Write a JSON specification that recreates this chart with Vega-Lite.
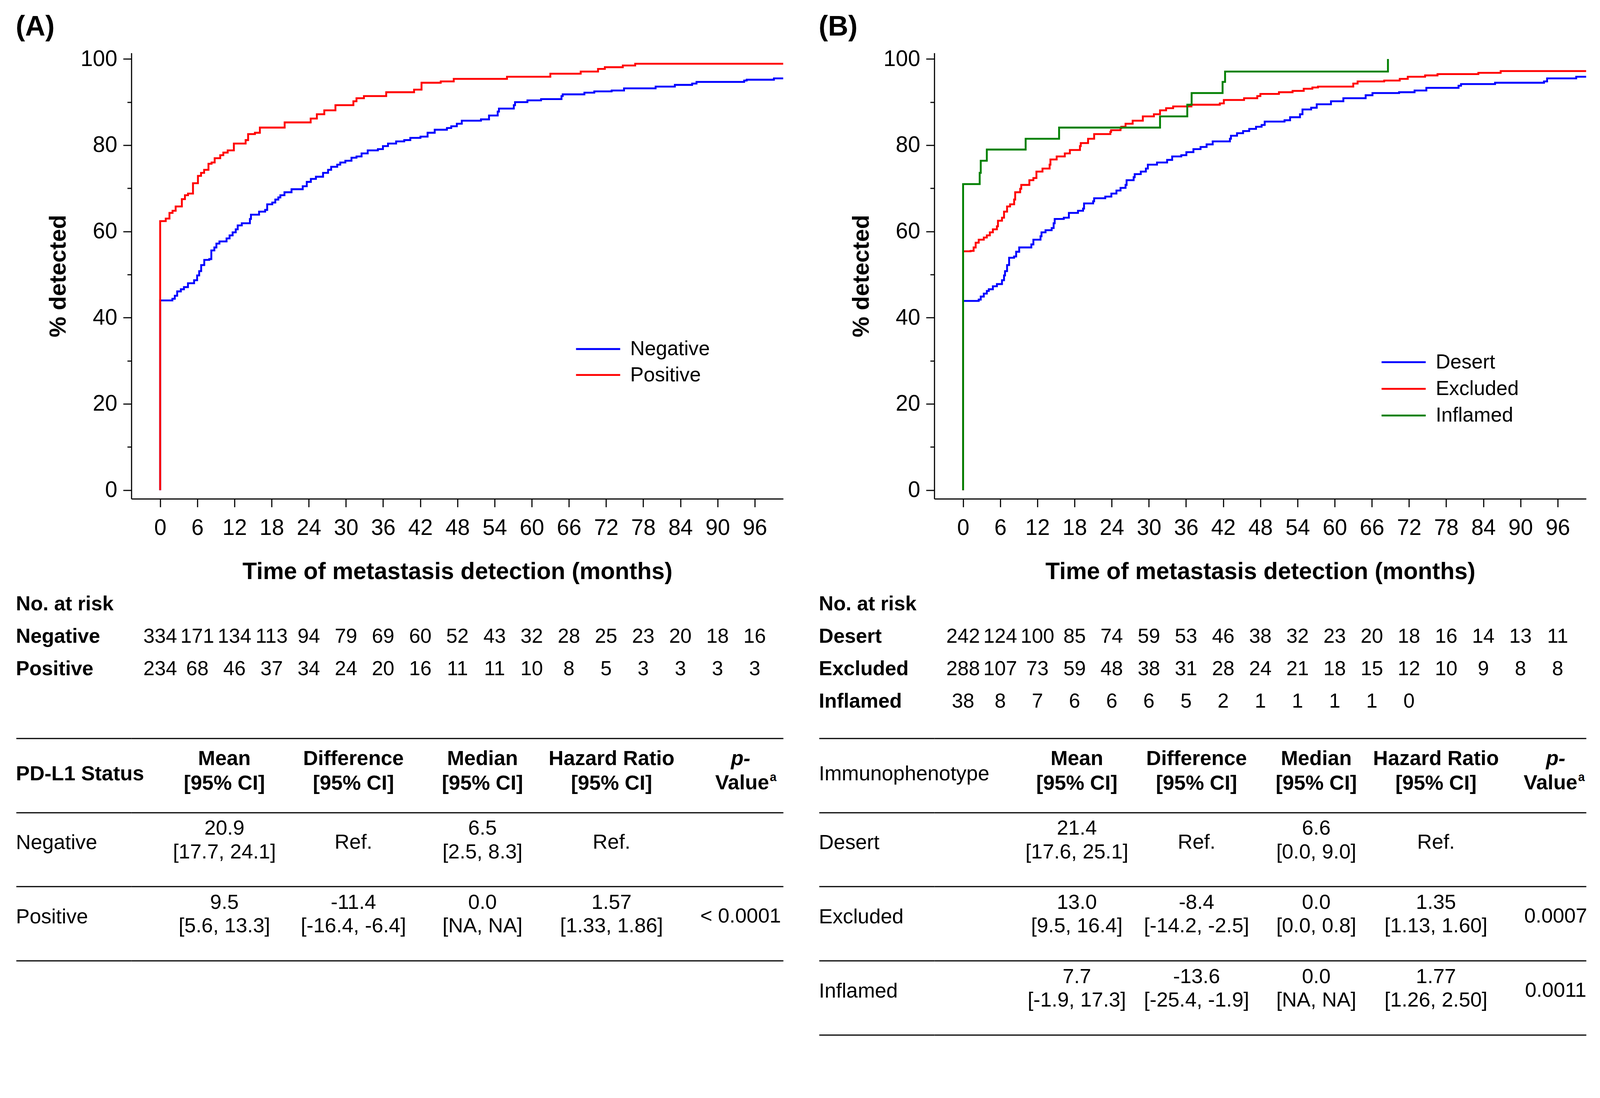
{
"$schema": "https://vega.github.io/schema/vega-lite/v6.json",
"padding": {"left": 39.3, "top": 32.6, "right": 0, "bottom": 0},
"background": "white",
"config": {
  "font": "Liberation Sans",
  "view": {"stroke": null},
  "axis": {"domainColor": "black", "tickColor": "black", "labelColor": "black", "titleColor": "black", "labelFont": "Liberation Sans", "titleFont": "Liberation Sans"},
  "legend": {"labelColor": "black", "labelFont": "Liberation Sans"},
  "text": {"color": "black", "font": "Liberation Sans"},
  "title": {"color": "black", "font": "Liberation Sans"}
},
"datasets": {
  "kmA": [
    {"grp":"Negative","t":0,"pct":0},{"grp":"Negative","t":0,"pct":44.0},{"grp":"Negative","t":1.97,"pct":44.4},{"grp":"Negative","t":2.36,"pct":45.1},{"grp":"Negative","t":2.75,"pct":46.1},{"grp":"Negative","t":3.34,"pct":46.6},{"grp":"Negative","t":3.84,"pct":47.1},{"grp":"Negative","t":4.49,"pct":48.0},{"grp":"Negative","t":5.48,"pct":48.7},{"grp":"Negative","t":5.97,"pct":49.8},{"grp":"Negative","t":6.3,"pct":50.8},{"grp":"Negative","t":6.62,"pct":52.2},{"grp":"Negative","t":7.12,"pct":53.4},{"grp":"Negative","t":7.93,"pct":53.6},{"grp":"Negative","t":8.26,"pct":55.6},{"grp":"Negative","t":8.75,"pct":56.3},{"grp":"Negative","t":9.08,"pct":57.2},{"grp":"Negative","t":9.57,"pct":57.7},{"grp":"Negative","t":10.72,"pct":58.4},{"grp":"Negative","t":11.21,"pct":59.1},{"grp":"Negative","t":11.7,"pct":59.8},{"grp":"Negative","t":12.2,"pct":60.5},{"grp":"Negative","t":12.52,"pct":61.4},{"grp":"Negative","t":13.18,"pct":61.9},{"grp":"Negative","t":14.49,"pct":62.9},{"grp":"Negative","t":14.66,"pct":63.9},{"grp":"Negative","t":15.97,"pct":64.6},{"grp":"Negative","t":16.95,"pct":65.0},{"grp":"Negative","t":17.28,"pct":66.3},{"grp":"Negative","t":18.1,"pct":66.7},{"grp":"Negative","t":18.59,"pct":67.4},{"grp":"Negative","t":19.08,"pct":67.9},{"grp":"Negative","t":19.41,"pct":68.4},{"grp":"Negative","t":20.07,"pct":69.1},{"grp":"Negative","t":21.21,"pct":69.8},{"grp":"Negative","t":23.02,"pct":70.5},{"grp":"Negative","t":23.67,"pct":71.5},{"grp":"Negative","t":24.33,"pct":72.2},{"grp":"Negative","t":25.15,"pct":72.7},{"grp":"Negative","t":26.3,"pct":73.6},{"grp":"Negative","t":27.11,"pct":74.3},{"grp":"Negative","t":27.61,"pct":75.0},{"grp":"Negative","t":28.59,"pct":75.5},{"grp":"Negative","t":29.08,"pct":76.0},{"grp":"Negative","t":29.9,"pct":76.4},{"grp":"Negative","t":30.89,"pct":77.1},{"grp":"Negative","t":31.7,"pct":77.4},{"grp":"Negative","t":32.52,"pct":78.1},{"grp":"Negative","t":33.51,"pct":78.8},{"grp":"Negative","t":35.15,"pct":79.1},{"grp":"Negative","t":35.97,"pct":79.8},{"grp":"Negative","t":36.79,"pct":80.4},{"grp":"Negative","t":38.1,"pct":80.9},{"grp":"Negative","t":39.41,"pct":81.2},{"grp":"Negative","t":40.39,"pct":81.7},{"grp":"Negative","t":42.03,"pct":82.0},{"grp":"Negative","t":43.18,"pct":82.9},{"grp":"Negative","t":44.33,"pct":83.6},{"grp":"Negative","t":46.3,"pct":84.0},{"grp":"Negative","t":47.0,"pct":84.4},{"grp":"Negative","t":47.9,"pct":85.0},{"grp":"Negative","t":48.7,"pct":85.7},{"grp":"Negative","t":51.8,"pct":86.0},{"grp":"Negative","t":53.1,"pct":86.9},{"grp":"Negative","t":54.5,"pct":87.8},{"grp":"Negative","t":54.7,"pct":88.5},{"grp":"Negative","t":57.1,"pct":89.3},{"grp":"Negative","t":57.3,"pct":90.0},{"grp":"Negative","t":59.3,"pct":90.4},{"grp":"Negative","t":61.5,"pct":90.7},{"grp":"Negative","t":64.8,"pct":91.4},{"grp":"Negative","t":65.0,"pct":91.8},{"grp":"Negative","t":68.5,"pct":92.2},{"grp":"Negative","t":70.1,"pct":92.5},{"grp":"Negative","t":72.9,"pct":92.7},{"grp":"Negative","t":74.9,"pct":93.2},{"grp":"Negative","t":80.0,"pct":93.6},{"grp":"Negative","t":83.1,"pct":94.0},{"grp":"Negative","t":85.9,"pct":94.3},{"grp":"Negative","t":86.6,"pct":94.7},{"grp":"Negative","t":94.3,"pct":95.0},{"grp":"Negative","t":94.7,"pct":95.2},{"grp":"Negative","t":99.1,"pct":95.5},{"grp":"Negative","t":100.6,"pct":95.5},
    {"grp":"Positive","t":0,"pct":0},{"grp":"Positive","t":0,"pct":62.4},{"grp":"Positive","t":0.9,"pct":63.0},{"grp":"Positive","t":1.5,"pct":64.3},{"grp":"Positive","t":2.0,"pct":64.8},{"grp":"Positive","t":2.5,"pct":65.8},{"grp":"Positive","t":3.5,"pct":67.5},{"grp":"Positive","t":4.0,"pct":68.4},{"grp":"Positive","t":4.5,"pct":68.8},{"grp":"Positive","t":5.3,"pct":71.2},{"grp":"Positive","t":6.1,"pct":72.9},{"grp":"Positive","t":6.6,"pct":73.6},{"grp":"Positive","t":7.1,"pct":74.3},{"grp":"Positive","t":7.8,"pct":75.7},{"grp":"Positive","t":8.3,"pct":76.0},{"grp":"Positive","t":8.8,"pct":77.0},{"grp":"Positive","t":9.7,"pct":77.7},{"grp":"Positive","t":10.2,"pct":78.3},{"grp":"Positive","t":10.9,"pct":78.8},{"grp":"Positive","t":11.9,"pct":80.4},{"grp":"Positive","t":13.8,"pct":81.2},{"grp":"Positive","t":14.2,"pct":82.6},{"grp":"Positive","t":15.3,"pct":82.9},{"grp":"Positive","t":16.1,"pct":84.1},{"grp":"Positive","t":20.1,"pct":85.3},{"grp":"Positive","t":24.3,"pct":86.2},{"grp":"Positive","t":25.3,"pct":87.2},{"grp":"Positive","t":26.5,"pct":88.1},{"grp":"Positive","t":28.3,"pct":89.3},{"grp":"Positive","t":31.2,"pct":90.2},{"grp":"Positive","t":31.7,"pct":90.9},{"grp":"Positive","t":32.9,"pct":91.4},{"grp":"Positive","t":36.5,"pct":92.3},{"grp":"Positive","t":41.0,"pct":92.9},{"grp":"Positive","t":42.2,"pct":94.5},{"grp":"Positive","t":45.3,"pct":94.8},{"grp":"Positive","t":47.4,"pct":95.4},{"grp":"Positive","t":56.0,"pct":95.9},{"grp":"Positive","t":63.0,"pct":96.6},{"grp":"Positive","t":67.9,"pct":97.1},{"grp":"Positive","t":70.7,"pct":97.7},{"grp":"Positive","t":71.8,"pct":98.1},{"grp":"Positive","t":74.7,"pct":98.5},{"grp":"Positive","t":76.7,"pct":98.9},{"grp":"Positive","t":100.6,"pct":98.9}
  ],
  "kmB": [
    {"grp":"Desert","t":0,"pct":0},{"grp":"Desert","t":0,"pct":43.9},{"grp":"Desert","t":2.52,"pct":44.2},{"grp":"Desert","t":2.85,"pct":44.9},{"grp":"Desert","t":3.34,"pct":45.6},{"grp":"Desert","t":3.83,"pct":46.2},{"grp":"Desert","t":4.15,"pct":46.6},{"grp":"Desert","t":4.81,"pct":47.3},{"grp":"Desert","t":5.46,"pct":47.8},{"grp":"Desert","t":6.28,"pct":48.7},{"grp":"Desert","t":6.61,"pct":49.8},{"grp":"Desert","t":6.77,"pct":50.8},{"grp":"Desert","t":7.1,"pct":52.2},{"grp":"Desert","t":7.43,"pct":53.9},{"grp":"Desert","t":8.24,"pct":54.2},{"grp":"Desert","t":8.57,"pct":55.3},{"grp":"Desert","t":9.06,"pct":56.3},{"grp":"Desert","t":11.02,"pct":57.0},{"grp":"Desert","t":11.35,"pct":58.1},{"grp":"Desert","t":12.5,"pct":58.9},{"grp":"Desert","t":12.66,"pct":59.8},{"grp":"Desert","t":13.31,"pct":60.3},{"grp":"Desert","t":14.3,"pct":60.8},{"grp":"Desert","t":14.62,"pct":61.9},{"grp":"Desert","t":14.79,"pct":62.9},{"grp":"Desert","t":16.26,"pct":63.2},{"grp":"Desert","t":17.08,"pct":64.3},{"grp":"Desert","t":18.55,"pct":64.8},{"grp":"Desert","t":19.37,"pct":65.3},{"grp":"Desert","t":19.53,"pct":66.5},{"grp":"Desert","t":21.0,"pct":67.0},{"grp":"Desert","t":21.16,"pct":67.7},{"grp":"Desert","t":22.96,"pct":68.1},{"grp":"Desert","t":23.94,"pct":68.8},{"grp":"Desert","t":24.76,"pct":69.5},{"grp":"Desert","t":25.42,"pct":70.1},{"grp":"Desert","t":26.23,"pct":70.8},{"grp":"Desert","t":26.4,"pct":71.9},{"grp":"Desert","t":27.54,"pct":72.6},{"grp":"Desert","t":27.71,"pct":73.3},{"grp":"Desert","t":28.69,"pct":73.9},{"grp":"Desert","t":29.51,"pct":74.6},{"grp":"Desert","t":29.83,"pct":75.5},{"grp":"Desert","t":31.31,"pct":76.0},{"grp":"Desert","t":32.94,"pct":76.6},{"grp":"Desert","t":33.76,"pct":77.4},{"grp":"Desert","t":35.23,"pct":77.7},{"grp":"Desert","t":36.05,"pct":78.4},{"grp":"Desert","t":37.19,"pct":79.1},{"grp":"Desert","t":38.34,"pct":79.6},{"grp":"Desert","t":39.32,"pct":80.2},{"grp":"Desert","t":40.3,"pct":80.9},{"grp":"Desert","t":43.08,"pct":81.5},{"grp":"Desert","t":43.25,"pct":82.2},{"grp":"Desert","t":44.23,"pct":82.8},{"grp":"Desert","t":45.21,"pct":83.3},{"grp":"Desert","t":46.2,"pct":83.8},{"grp":"Desert","t":47.3,"pct":84.3},{"grp":"Desert","t":48.2,"pct":84.7},{"grp":"Desert","t":48.7,"pct":85.5},{"grp":"Desert","t":51.9,"pct":85.8},{"grp":"Desert","t":52.8,"pct":86.5},{"grp":"Desert","t":54.4,"pct":87.2},{"grp":"Desert","t":54.8,"pct":88.3},{"grp":"Desert","t":56.2,"pct":88.7},{"grp":"Desert","t":57.1,"pct":89.5},{"grp":"Desert","t":59.4,"pct":90.2},{"grp":"Desert","t":61.4,"pct":90.9},{"grp":"Desert","t":65.0,"pct":91.6},{"grp":"Desert","t":66.1,"pct":92.1},{"grp":"Desert","t":70.4,"pct":92.3},{"grp":"Desert","t":72.9,"pct":92.7},{"grp":"Desert","t":74.8,"pct":93.3},{"grp":"Desert","t":80.0,"pct":93.8},{"grp":"Desert","t":80.4,"pct":94.2},{"grp":"Desert","t":85.9,"pct":94.5},{"grp":"Desert","t":93.8,"pct":94.8},{"grp":"Desert","t":94.3,"pct":95.5},{"grp":"Desert","t":99.0,"pct":95.9},{"grp":"Desert","t":100.6,"pct":95.9},
    {"grp":"Excluded","t":0,"pct":0},{"grp":"Excluded","t":0,"pct":55.4},{"grp":"Excluded","t":1.2,"pct":55.5},{"grp":"Excluded","t":1.7,"pct":56.3},{"grp":"Excluded","t":2.03,"pct":57.4},{"grp":"Excluded","t":2.52,"pct":58.1},{"grp":"Excluded","t":3.34,"pct":58.6},{"grp":"Excluded","t":3.83,"pct":59.1},{"grp":"Excluded","t":4.32,"pct":59.8},{"grp":"Excluded","t":4.81,"pct":60.5},{"grp":"Excluded","t":5.46,"pct":61.2},{"grp":"Excluded","t":5.63,"pct":62.5},{"grp":"Excluded","t":6.28,"pct":63.2},{"grp":"Excluded","t":6.61,"pct":64.6},{"grp":"Excluded","t":7.1,"pct":65.8},{"grp":"Excluded","t":7.59,"pct":66.3},{"grp":"Excluded","t":8.24,"pct":67.4},{"grp":"Excluded","t":8.41,"pct":69.1},{"grp":"Excluded","t":9.22,"pct":69.9},{"grp":"Excluded","t":9.39,"pct":70.8},{"grp":"Excluded","t":10.7,"pct":71.9},{"grp":"Excluded","t":11.35,"pct":72.4},{"grp":"Excluded","t":11.84,"pct":73.9},{"grp":"Excluded","t":12.82,"pct":74.6},{"grp":"Excluded","t":13.97,"pct":75.5},{"grp":"Excluded","t":14.1,"pct":76.7},{"grp":"Excluded","t":15.11,"pct":77.4},{"grp":"Excluded","t":16.42,"pct":78.1},{"grp":"Excluded","t":17.24,"pct":78.9},{"grp":"Excluded","t":18.87,"pct":79.8},{"grp":"Excluded","t":19.0,"pct":80.5},{"grp":"Excluded","t":20.18,"pct":81.5},{"grp":"Excluded","t":21.16,"pct":82.6},{"grp":"Excluded","t":23.78,"pct":83.1},{"grp":"Excluded","t":23.9,"pct":83.5},{"grp":"Excluded","t":25.42,"pct":84.0},{"grp":"Excluded","t":25.55,"pct":84.3},{"grp":"Excluded","t":26.23,"pct":85.0},{"grp":"Excluded","t":27.38,"pct":85.7},{"grp":"Excluded","t":29.02,"pct":86.7},{"grp":"Excluded","t":30.81,"pct":87.2},{"grp":"Excluded","t":31.8,"pct":88.1},{"grp":"Excluded","t":32.78,"pct":88.6},{"grp":"Excluded","t":33.92,"pct":89.0},{"grp":"Excluded","t":36.87,"pct":89.4},{"grp":"Excluded","t":41.45,"pct":89.7},{"grp":"Excluded","t":42.1,"pct":90.5},{"grp":"Excluded","t":45.37,"pct":90.9},{"grp":"Excluded","t":47.5,"pct":91.4},{"grp":"Excluded","t":48.0,"pct":91.9},{"grp":"Excluded","t":51.0,"pct":92.3},{"grp":"Excluded","t":53.2,"pct":92.6},{"grp":"Excluded","t":55.0,"pct":93.1},{"grp":"Excluded","t":56.4,"pct":93.4},{"grp":"Excluded","t":57.3,"pct":93.6},{"grp":"Excluded","t":63.0,"pct":94.3},{"grp":"Excluded","t":63.7,"pct":94.8},{"grp":"Excluded","t":68.0,"pct":95.0},{"grp":"Excluded","t":70.5,"pct":95.4},{"grp":"Excluded","t":71.8,"pct":95.9},{"grp":"Excluded","t":74.6,"pct":96.2},{"grp":"Excluded","t":76.6,"pct":96.5},{"grp":"Excluded","t":83.2,"pct":96.8},{"grp":"Excluded","t":86.8,"pct":97.2},{"grp":"Excluded","t":100.6,"pct":97.2},
    {"grp":"Inflamed","t":0,"pct":0},{"grp":"Inflamed","t":0,"pct":71.0},{"grp":"Inflamed","t":2.68,"pct":73.6},{"grp":"Inflamed","t":2.85,"pct":76.4},{"grp":"Inflamed","t":3.83,"pct":79.0},{"grp":"Inflamed","t":10.1,"pct":81.5},{"grp":"Inflamed","t":15.5,"pct":84.1},{"grp":"Inflamed","t":31.8,"pct":86.7},{"grp":"Inflamed","t":36.2,"pct":89.4},{"grp":"Inflamed","t":36.9,"pct":92.1},{"grp":"Inflamed","t":41.9,"pct":94.7},{"grp":"Inflamed","t":42.3,"pct":97.1},{"grp":"Inflamed","t":68.6,"pct":100}
  ],
  "riskA": [
    {"grp":"Negative","t":0,"n":334},{"grp":"Negative","t":6,"n":171},{"grp":"Negative","t":12,"n":134},{"grp":"Negative","t":18,"n":113},{"grp":"Negative","t":24,"n":94},{"grp":"Negative","t":30,"n":79},{"grp":"Negative","t":36,"n":69},{"grp":"Negative","t":42,"n":60},{"grp":"Negative","t":48,"n":52},{"grp":"Negative","t":54,"n":43},{"grp":"Negative","t":60,"n":32},{"grp":"Negative","t":66,"n":28},{"grp":"Negative","t":72,"n":25},{"grp":"Negative","t":78,"n":23},{"grp":"Negative","t":84,"n":20},{"grp":"Negative","t":90,"n":18},{"grp":"Negative","t":96,"n":16},
    {"grp":"Positive","t":0,"n":234},{"grp":"Positive","t":6,"n":68},{"grp":"Positive","t":12,"n":46},{"grp":"Positive","t":18,"n":37},{"grp":"Positive","t":24,"n":34},{"grp":"Positive","t":30,"n":24},{"grp":"Positive","t":36,"n":20},{"grp":"Positive","t":42,"n":16},{"grp":"Positive","t":48,"n":11},{"grp":"Positive","t":54,"n":11},{"grp":"Positive","t":60,"n":10},{"grp":"Positive","t":66,"n":8},{"grp":"Positive","t":72,"n":5},{"grp":"Positive","t":78,"n":3},{"grp":"Positive","t":84,"n":3},{"grp":"Positive","t":90,"n":3},{"grp":"Positive","t":96,"n":3}
  ],
  "riskB": [
    {"grp":"Desert","t":0,"n":242},{"grp":"Desert","t":6,"n":124},{"grp":"Desert","t":12,"n":100},{"grp":"Desert","t":18,"n":85},{"grp":"Desert","t":24,"n":74},{"grp":"Desert","t":30,"n":59},{"grp":"Desert","t":36,"n":53},{"grp":"Desert","t":42,"n":46},{"grp":"Desert","t":48,"n":38},{"grp":"Desert","t":54,"n":32},{"grp":"Desert","t":60,"n":23},{"grp":"Desert","t":66,"n":20},{"grp":"Desert","t":72,"n":18},{"grp":"Desert","t":78,"n":16},{"grp":"Desert","t":84,"n":14},{"grp":"Desert","t":90,"n":13},{"grp":"Desert","t":96,"n":11},
    {"grp":"Excluded","t":0,"n":288},{"grp":"Excluded","t":6,"n":107},{"grp":"Excluded","t":12,"n":73},{"grp":"Excluded","t":18,"n":59},{"grp":"Excluded","t":24,"n":48},{"grp":"Excluded","t":30,"n":38},{"grp":"Excluded","t":36,"n":31},{"grp":"Excluded","t":42,"n":28},{"grp":"Excluded","t":48,"n":24},{"grp":"Excluded","t":54,"n":21},{"grp":"Excluded","t":60,"n":18},{"grp":"Excluded","t":66,"n":15},{"grp":"Excluded","t":72,"n":12},{"grp":"Excluded","t":78,"n":10},{"grp":"Excluded","t":84,"n":9},{"grp":"Excluded","t":90,"n":8},{"grp":"Excluded","t":96,"n":8},
    {"grp":"Inflamed","t":0,"n":38},{"grp":"Inflamed","t":6,"n":8},{"grp":"Inflamed","t":12,"n":7},{"grp":"Inflamed","t":18,"n":6},{"grp":"Inflamed","t":24,"n":6},{"grp":"Inflamed","t":30,"n":6},{"grp":"Inflamed","t":36,"n":5},{"grp":"Inflamed","t":42,"n":2},{"grp":"Inflamed","t":48,"n":1},{"grp":"Inflamed","t":54,"n":1},{"grp":"Inflamed","t":60,"n":1},{"grp":"Inflamed","t":66,"n":1},{"grp":"Inflamed","t":72,"n":0}
  ],
  "tabA": [
    {"row":"PD-L1 Status","col":"Mean","txt":"Mean\n[95% CI]"},
    {"row":"PD-L1 Status","col":"Difference","txt":"Difference\n[95% CI]"},
    {"row":"PD-L1 Status","col":"Median","txt":"Median\n[95% CI]"},
    {"row":"PD-L1 Status","col":"Hazard Ratio","txt":"Hazard Ratio\n[95% CI]"},
    {"row":"PD-L1 Status","col":"p-Value","one":"p-","txt2":"Value","sup":"a"},
    {"row":"Negative","col":"Mean","txt":"20.9\n[17.7, 24.1]"},
    {"row":"Negative","col":"Difference","one":"Ref."},
    {"row":"Negative","col":"Median","txt":"6.5\n[2.5, 8.3]"},
    {"row":"Negative","col":"Hazard Ratio","one":"Ref."},
    {"row":"Positive","col":"Mean","txt":"9.5\n[5.6, 13.3]"},
    {"row":"Positive","col":"Difference","txt":"-11.4\n[-16.4, -6.4]"},
    {"row":"Positive","col":"Median","txt":"0.0\n[NA, NA]"},
    {"row":"Positive","col":"Hazard Ratio","txt":"1.57\n[1.33, 1.86]"},
    {"row":"Positive","col":"p-Value","one":"< 0.0001"}
  ],
  "tabB": [
    {"row":"Immunophenotype","col":"Mean","txt":"Mean\n[95% CI]"},
    {"row":"Immunophenotype","col":"Difference","txt":"Difference\n[95% CI]"},
    {"row":"Immunophenotype","col":"Median","txt":"Median\n[95% CI]"},
    {"row":"Immunophenotype","col":"Hazard Ratio","txt":"Hazard Ratio\n[95% CI]"},
    {"row":"Immunophenotype","col":"p-Value","one":"p-","txt2":"Value","sup":"a"},
    {"row":"Desert","col":"Mean","txt":"21.4\n[17.6, 25.1]"},
    {"row":"Desert","col":"Difference","one":"Ref."},
    {"row":"Desert","col":"Median","txt":"6.6\n[0.0, 9.0]"},
    {"row":"Desert","col":"Hazard Ratio","one":"Ref."},
    {"row":"Excluded","col":"Mean","txt":"13.0\n[9.5, 16.4]"},
    {"row":"Excluded","col":"Difference","txt":"-8.4\n[-14.2, -2.5]"},
    {"row":"Excluded","col":"Median","txt":"0.0\n[0.0, 0.8]"},
    {"row":"Excluded","col":"Hazard Ratio","txt":"1.35\n[1.13, 1.60]"},
    {"row":"Excluded","col":"p-Value","one":"0.0007"},
    {"row":"Inflamed","col":"Mean","txt":"7.7\n[-1.9, 17.3]"},
    {"row":"Inflamed","col":"Difference","txt":"-13.6\n[-25.4, -1.9]"},
    {"row":"Inflamed","col":"Median","txt":"0.0\n[NA, NA]"},
    {"row":"Inflamed","col":"Hazard Ratio","txt":"1.77\n[1.26, 2.50]"},
    {"row":"Inflamed","col":"p-Value","one":"0.0011"}
  ]
},
"resolve": {"scale": {"color": "independent"}, "legend": {"color": "independent"}},
"spacing": 79.5,
"hconcat": [
 {
  "concat": [
   {
    "concat": [
     {
      "width": 1668.7, "height": 1140.9,
      "title": {"text": "(A)", "anchor": "start", "frame": "group", "dx": -296, "offset": -39.3, "baseline": "alphabetic", "fontSize": 71.8, "fontWeight": "bold", "color": "black"},
      "data": {"name": "kmA"},
      "mark": {"type": "line", "interpolate": "step-after", "strokeWidth": 4.8},
      "encoding": {
        "x": {"field": "t", "type": "quantitative", "scale": {"domain": [-4.65, 100.6], "nice": false, "zero": false},
              "axis": {"values": [0,6,12,18,24,30,36,42,48,54,60,66,72,78,84,90,96], "title": "Time of metastasis detection (months)", "titleFontSize": 60.3, "titleFontWeight": "bold", "titlePadding": 53.6, "titleLimit": 4000, "labelFontSize": 56.5, "labelPadding": 25.9, "tickSize": 21.1, "tickWidth": 2.9, "domainWidth": 2.9, "grid": false, "labelFlush": false, "labelOverlap": false, "labelBound": false}},
        "y": {"field": "pct", "type": "quantitative", "scale": {"domain": [-2, 101.4], "nice": false, "zero": false},
              "axis": {"values": [0,10,20,30,40,50,60,70,80,90,100], "labelExpr": "datum.value % 20 === 0 ? datum.label : ''", "tickSize": {"condition": {"test": "datum.value % 20 === 0", "value": 21.1}, "value": 10.5}, "tickWidth": 2.9, "domainWidth": 2.9, "labelFontSize": 56.5, "labelPadding": 15.3, "title": "% detected", "titleFontSize": 59.4, "titleFontWeight": "bold", "titlePadding": 25.9, "titleLimit": 4000, "grid": false, "labelOverlap": false, "labelFlush": false, "labelBound": false}},
        "color": {"field": "grp", "type": "nominal", "scale": {"domain": ["Negative", "Positive"], "range": ["#0000FF", "#FF0000"]},
                  "legend": {"orient": "none", "legendX": 1131.3, "legendY": 731.8, "title": null, "symbolType": "M-1,0L5,0", "symbolSize": 1420, "symbolStrokeWidth": 4.8, "labelFontSize": 51.7, "labelOffset": 93.9, "rowPadding": 13.4, "padding": 0, "labelLimit": 2000}},
        "order": {"value": null}
      }
     },
     {
      "width": 1668.7, "height": 332.6,
      "data": {"name": "riskA"},
      "mark": {"type": "text", "fontSize": 51.7, "baseline": "middle", "color": "black"},
      "encoding": {
        "x": {"field": "t", "type": "quantitative", "scale": {"domain": [-4.65, 100.6], "nice": false, "zero": false}, "axis": null},
        "y": {"field": "grp", "type": "nominal", "scale": {"type": "band", "domain": ["No. at risk", "Negative", "Positive", " "], "paddingInner": 0, "paddingOuter": 0},
              "axis": {"orient": "left", "title": null, "ticks": false, "tickSize": 0, "domain": false, "grid": false, "labelAlign": "left", "labelPadding": 296, "labelFontSize": 51.7, "labelFontWeight": "bold", "labelLimit": 2000, "labelBaseline": "middle", "labelOverlap": false}},
        "text": {"field": "n", "type": "quantitative", "format": "d"}
      }
     }
    ],
    "columns": 1, "align": "none", "spacing": 9.6
   },
   {
    "width": 1668.7, "height": 569,
    "data": {"name": "tabA"},
    "encoding": {
      "y": {"field": "row", "type": "nominal", "scale": {"type": "band", "domain": ["PD-L1 Status", "Negative", "Positive"], "paddingInner": 0, "paddingOuter": 0},
            "axis": {"orient": "left", "title": null, "domain": false, "ticks": true, "tickBand": "extent", "tickSize": 295, "tickWidth": 2.9, "tickColor": "black", "grid": true, "gridColor": "black", "gridWidth": 2.9, "gridOpacity": 1,
                     "labelAlign": "left", "labelPadding": 1, "labelFontSize": 52.7, "labelLimit": 2000, "labelBaseline": "middle", "labelOverlap": false,
                     "labelOffset": {"condition": {"test": "datum.value === 'PD-L1 Status'", "value": -3.8}, "value": -17.2},
                     "labelFontWeight": {"condition": {"test": "datum.value === 'PD-L1 Status'", "value": "bold"}, "value": "normal"}}}
    },
    "layer": [
     {"transform": [{"filter": "datum.row === 'PD-L1 Status' && datum.txt"}],
      "mark": {"type": "text", "fontSize": 52.7, "fontWeight": "bold", "lineBreak": "\n", "lineHeight": 62.3, "dy": -42.1, "baseline": "middle", "color": "black"},
      "encoding": {"x": {"field": "col", "type": "nominal", "scale": {"type": "point", "domain": ["Mean", "Difference", "Median", "Hazard Ratio", "p-Value"], "padding": 0.5254, "align": 0.686}, "axis": null}, "text": {"field": "txt"}}},
     {"transform": [{"filter": "datum.row === 'PD-L1 Status' && datum.one"}],
      "mark": {"type": "text", "fontSize": 52.7, "fontWeight": "bold", "fontStyle": "italic", "dy": -42.1, "baseline": "middle", "color": "black"},
      "encoding": {"x": {"field": "col", "type": "nominal", "scale": {"type": "point", "domain": ["Mean", "Difference", "Median", "Hazard Ratio", "p-Value"], "padding": 0.5254, "align": 0.686}, "axis": null}, "text": {"field": "one"}}},
     {"transform": [{"filter": "datum.row === 'PD-L1 Status' && datum.txt2"}],
      "mark": {"type": "text", "fontSize": 52.7, "fontWeight": "bold", "dy": 20.1, "dx": 72.8, "align": "right", "baseline": "middle", "color": "black"},
      "encoding": {"x": {"field": "col", "type": "nominal", "scale": {"type": "point", "domain": ["Mean", "Difference", "Median", "Hazard Ratio", "p-Value"], "padding": 0.5254, "align": 0.686}, "axis": null}, "text": {"field": "txt2"}}},
     {"transform": [{"filter": "datum.row === 'PD-L1 Status' && datum.sup"}],
      "mark": {"type": "text", "fontSize": 30.7, "fontWeight": "bold", "dy": 14.4, "dx": 74.7, "align": "left", "baseline": "alphabetic", "color": "black"},
      "encoding": {"x": {"field": "col", "type": "nominal", "scale": {"type": "point", "domain": ["Mean", "Difference", "Median", "Hazard Ratio", "p-Value"], "padding": 0.5254, "align": 0.686}, "axis": null}, "text": {"field": "sup"}}},
     {"transform": [{"filter": "datum.row !== 'PD-L1 Status' && datum.txt"}],
      "mark": {"type": "text", "fontSize": 52.7, "lineBreak": "\n", "lineHeight": 60.3, "dy": -53.6, "baseline": "middle", "color": "black"},
      "encoding": {"x": {"field": "col", "type": "nominal", "scale": {"type": "point", "domain": ["Mean", "Difference", "Median", "Hazard Ratio", "p-Value"], "padding": 0.5254, "align": 0.686}, "axis": null}, "text": {"field": "txt"}}},
     {"transform": [{"filter": "datum.row !== 'PD-L1 Status' && datum.one"}],
      "mark": {"type": "text", "fontSize": 52.7, "dy": -18.2, "baseline": "middle", "color": "black"},
      "encoding": {"x": {"field": "col", "type": "nominal", "scale": {"type": "point", "domain": ["Mean", "Difference", "Median", "Hazard Ratio", "p-Value"], "padding": 0.5254, "align": 0.686}, "axis": null}, "text": {"field": "one"}}}
    ]
   }
  ],
  "columns": 1, "align": "none", "spacing": 25.9
 },
 {
  "concat": [
   {
    "concat": [
     {
      "width": 1668.7, "height": 1140.9,
      "title": {"text": "(B)", "anchor": "start", "frame": "group", "dx": -296, "offset": -39.3, "baseline": "alphabetic", "fontSize": 71.8, "fontWeight": "bold", "color": "black"},
      "data": {"name": "kmB"},
      "mark": {"type": "line", "interpolate": "step-after", "strokeWidth": 4.8},
      "encoding": {
        "x": {"field": "t", "type": "quantitative", "scale": {"domain": [-4.65, 100.6], "nice": false, "zero": false},
              "axis": {"values": [0,6,12,18,24,30,36,42,48,54,60,66,72,78,84,90,96], "title": "Time of metastasis detection (months)", "titleFontSize": 60.3, "titleFontWeight": "bold", "titlePadding": 53.6, "titleLimit": 4000, "labelFontSize": 56.5, "labelPadding": 25.9, "tickSize": 21.1, "tickWidth": 2.9, "domainWidth": 2.9, "grid": false, "labelFlush": false, "labelOverlap": false, "labelBound": false}},
        "y": {"field": "pct", "type": "quantitative", "scale": {"domain": [-2, 101.4], "nice": false, "zero": false},
              "axis": {"values": [0,10,20,30,40,50,60,70,80,90,100], "labelExpr": "datum.value % 20 === 0 ? datum.label : ''", "tickSize": {"condition": {"test": "datum.value % 20 === 0", "value": 21.1}, "value": 10.5}, "tickWidth": 2.9, "domainWidth": 2.9, "labelFontSize": 56.5, "labelPadding": 15.3, "title": "% detected", "titleFontSize": 59.4, "titleFontWeight": "bold", "titlePadding": 25.9, "titleLimit": 4000, "grid": false, "labelOverlap": false, "labelFlush": false, "labelBound": false}},
        "color": {"field": "grp", "type": "nominal", "scale": {"domain": ["Desert", "Excluded", "Inflamed"], "range": ["#0000FF", "#FF0000", "#008000"]},
                  "legend": {"orient": "none", "legendX": 1138, "legendY": 765.4, "title": null, "symbolType": "M-1,0L5,0", "symbolSize": 1420, "symbolStrokeWidth": 4.8, "labelFontSize": 51.7, "labelOffset": 93.9, "rowPadding": 15.3, "padding": 0, "labelLimit": 2000}},
        "order": {"value": null}
      }
     },
     {
      "width": 1668.7, "height": 332.6,
      "data": {"name": "riskB"},
      "mark": {"type": "text", "fontSize": 51.7, "baseline": "middle", "color": "black"},
      "encoding": {
        "x": {"field": "t", "type": "quantitative", "scale": {"domain": [-4.65, 100.6], "nice": false, "zero": false}, "axis": null},
        "y": {"field": "grp", "type": "nominal", "scale": {"type": "band", "domain": ["No. at risk", "Desert", "Excluded", "Inflamed"], "paddingInner": 0, "paddingOuter": 0},
              "axis": {"orient": "left", "title": null, "ticks": false, "tickSize": 0, "domain": false, "grid": false, "labelAlign": "left", "labelPadding": 296, "labelFontSize": 51.7, "labelFontWeight": "bold", "labelLimit": 2000, "labelBaseline": "middle", "labelOverlap": false}},
        "text": {"field": "n", "type": "quantitative", "format": "d"}
      }
     }
    ],
    "columns": 1, "align": "none", "spacing": 9.6
   },
   {
    "width": 1668.7, "height": 758.7,
    "data": {"name": "tabB"},
    "encoding": {
      "y": {"field": "row", "type": "nominal", "scale": {"type": "band", "domain": ["Immunophenotype", "Desert", "Excluded", "Inflamed"], "paddingInner": 0, "paddingOuter": 0},
            "axis": {"orient": "left", "title": null, "domain": false, "ticks": true, "tickBand": "extent", "tickSize": 295, "tickWidth": 2.9, "tickColor": "black", "grid": true, "gridColor": "black", "gridWidth": 2.9, "gridOpacity": 1,
                     "labelAlign": "left", "labelPadding": 1, "labelFontSize": 52.7, "labelLimit": 2000, "labelBaseline": "middle", "labelOverlap": false,
                     "labelOffset": {"condition": {"test": "datum.value === 'Immunophenotype'", "value": -3.8}, "value": -17.2}}}
    },
    "layer": [
     {"transform": [{"filter": "datum.row === 'Immunophenotype' && datum.txt"}],
      "mark": {"type": "text", "fontSize": 52.7, "fontWeight": "bold", "lineBreak": "\n", "lineHeight": 62.3, "dy": -42.1, "baseline": "middle", "color": "black"},
      "encoding": {"x": {"field": "col", "type": "nominal", "scale": {"type": "point", "domain": ["Mean", "Difference", "Median", "Hazard Ratio", "p-Value"], "padding": 0.7227, "align": 0.824}, "axis": null}, "text": {"field": "txt"}}},
     {"transform": [{"filter": "datum.row === 'Immunophenotype' && datum.one"}],
      "mark": {"type": "text", "fontSize": 52.7, "fontWeight": "bold", "fontStyle": "italic", "dy": -42.1, "baseline": "middle", "color": "black"},
      "encoding": {"x": {"field": "col", "type": "nominal", "scale": {"type": "point", "domain": ["Mean", "Difference", "Median", "Hazard Ratio", "p-Value"], "padding": 0.7227, "align": 0.824}, "axis": null}, "text": {"field": "one"}}},
     {"transform": [{"filter": "datum.row === 'Immunophenotype' && datum.txt2"}],
      "mark": {"type": "text", "fontSize": 52.7, "fontWeight": "bold", "dy": 20.1, "dx": 55.6, "align": "right", "baseline": "middle", "color": "black"},
      "encoding": {"x": {"field": "col", "type": "nominal", "scale": {"type": "point", "domain": ["Mean", "Difference", "Median", "Hazard Ratio", "p-Value"], "padding": 0.7227, "align": 0.824}, "axis": null}, "text": {"field": "txt2"}}},
     {"transform": [{"filter": "datum.row === 'Immunophenotype' && datum.sup"}],
      "mark": {"type": "text", "fontSize": 30.7, "fontWeight": "bold", "dy": 14.4, "dx": 57.5, "align": "left", "baseline": "alphabetic", "color": "black"},
      "encoding": {"x": {"field": "col", "type": "nominal", "scale": {"type": "point", "domain": ["Mean", "Difference", "Median", "Hazard Ratio", "p-Value"], "padding": 0.7227, "align": 0.824}, "axis": null}, "text": {"field": "sup"}}},
     {"transform": [{"filter": "datum.row !== 'Immunophenotype' && datum.txt"}],
      "mark": {"type": "text", "fontSize": 52.7, "lineBreak": "\n", "lineHeight": 60.3, "dy": -53.6, "baseline": "middle", "color": "black"},
      "encoding": {"x": {"field": "col", "type": "nominal", "scale": {"type": "point", "domain": ["Mean", "Difference", "Median", "Hazard Ratio", "p-Value"], "padding": 0.7227, "align": 0.824}, "axis": null}, "text": {"field": "txt"}}},
     {"transform": [{"filter": "datum.row !== 'Immunophenotype' && datum.one"}],
      "mark": {"type": "text", "fontSize": 52.7, "dy": -18.2, "baseline": "middle", "color": "black"},
      "encoding": {"x": {"field": "col", "type": "nominal", "scale": {"type": "point", "domain": ["Mean", "Difference", "Median", "Hazard Ratio", "p-Value"], "padding": 0.7227, "align": 0.824}, "axis": null}, "text": {"field": "one"}}}
    ]
   }
  ],
  "columns": 1, "align": "none", "spacing": 25.9
 }
]
}
